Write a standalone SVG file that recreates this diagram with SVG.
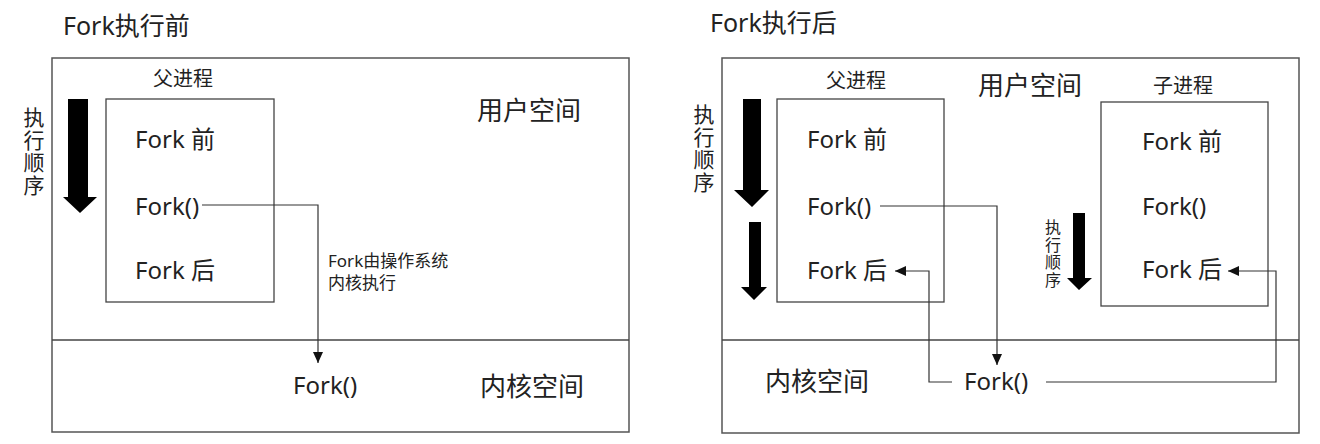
<svg xmlns="http://www.w3.org/2000/svg" width="1320" height="444" viewBox="0 0 1320 444">
  <defs>
    <style>
      text { font-family: "Noto Sans", "Noto Sans CJK SC", sans-serif; fill: #222; }
      .title { font-size: 25px; }
      .big { font-size: 24px; }
      .space { font-size: 26px; }
      .label { font-size: 20px; }
      .note { font-size: 17px; }
      .vert { font-size: 21px; writing-mode: vertical-rl; letter-spacing: 1.5px; }
      .vsmall { font-size: 16px; writing-mode: vertical-rl; letter-spacing: 1.5px; }
      .frame { fill: #fff; stroke: #555; stroke-width: 1.5; }
      .box { fill: none; stroke: #444; stroke-width: 1.3; }
      .divider { stroke: #444; stroke-width: 1.3; }
      .link { fill: none; stroke: #333; stroke-width: 1.2; }
      .flow { fill: #000; }
    </style>
    <marker id="tip" markerUnits="userSpaceOnUse" markerWidth="12" markerHeight="10" refX="11" refY="5" orient="auto">
      <path d="M0,0 L11,5 L0,10 z" fill="#111"/>
    </marker>
  </defs>
  <rect width="1320" height="444" fill="#fff"/>

  <!-- Before fork -->
  <g id="before">
    <text class="title" x="63" y="35">Fork执行前</text>
    <rect class="frame" x="52" y="58" width="577" height="374"/>
    <line class="divider" x1="52" y1="340" x2="629" y2="340"/>
    <text class="space" x="477" y="120">用户空间</text>
    <text class="space" x="480" y="396">内核空间</text>
    <text class="vert" x="33" y="107">执行顺序</text>
    <path class="flow" d="M68,99 H88 V197 H97 L80,213 L63,197 H68 Z"/>
  </g>

  <g id="before-parent">
    <text class="label" x="183" y="86" text-anchor="middle">父进程</text>
    <rect class="box" x="106" y="99" width="168" height="203"/>
    <text class="big" x="135" y="148">Fork 前</text>
    <text class="big" x="135" y="215">Fork()</text>
    <text class="big" x="135" y="279">Fork 后</text>
  </g>

  <g id="before-kernel-fork">
    <text class="big" x="293" y="394">Fork()</text>
    <text class="note" x="328" y="267">Fork由操作系统</text>
    <text class="note" x="328" y="289">内核执行</text>
  </g>

  <!-- After fork -->
  <g id="after">
    <text class="title" x="710" y="32">Fork执行后</text>
    <rect class="frame" x="722" y="58" width="577" height="375"/>
    <line class="divider" x1="722" y1="340" x2="1299" y2="340"/>
    <text class="space" x="978" y="95">用户空间</text>
    <text class="space" x="765" y="391">内核空间</text>
    <text class="vert" x="703" y="104">执行顺序</text>
    <path class="flow" d="M743,99 H761 V190 H769 L752,207 L734,190 H743 Z"/>
    <path class="flow" d="M749,222 H761 V287 H767 L754,300 L741,287 H749 Z"/>
  </g>

  <g id="after-parent">
    <text class="label" x="856" y="88" text-anchor="middle">父进程</text>
    <rect class="box" x="777" y="99" width="167" height="203"/>
    <text class="big" x="807" y="148">Fork 前</text>
    <text class="big" x="807" y="215">Fork()</text>
    <text class="big" x="807" y="279">Fork 后</text>
  </g>

  <g id="after-child">
    <text class="label" x="1183" y="93" text-anchor="middle">子进程</text>
    <rect class="box" x="1101" y="102" width="167" height="204"/>
    <text class="big" x="1142" y="150">Fork 前</text>
    <text class="big" x="1142" y="215">Fork()</text>
    <text class="big" x="1142" y="278">Fork 后</text>
    <text class="vsmall" x="1052" y="219">执行顺序</text>
    <path class="flow" d="M1073,213 H1085 V278 H1092 L1079,290 L1067,278 H1073 Z"/>
  </g>

  <g id="after-kernel-fork">
    <text class="big" x="964" y="390">Fork()</text>
  </g>

  <!-- Connectors -->
  <g id="connectors">
    <polyline class="link" points="202,205 318,205 318,363" marker-end="url(#tip)"/>
    <polyline class="link" points="880,206 997,206 997,365" marker-end="url(#tip)"/>
    <polyline class="link" points="952,382 929,382 929,271 895,271" marker-end="url(#tip)"/>
    <polyline class="link" points="1046,382 1276,382 1276,271 1228,271" marker-end="url(#tip)"/>
  </g>
</svg>
